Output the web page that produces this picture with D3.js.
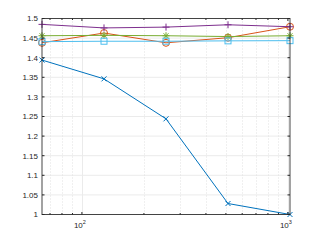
<!DOCTYPE html>
<html>
<head>
<meta charset="utf-8">
<script src="https://cdn.jsdelivr.net/npm/d3@7"></script>
<style>
  html, body { margin: 0; padding: 0; background: #fff; }
  svg { display: block; font-family: "Liberation Sans", Arial, sans-serif; }
</style>
</head>
<body>
<svg id="chart" width="321" height="241"></svg>
<script>
const xValues = [64, 128, 256, 512, 1024];

const blueX = [1.394, 1.346, 1.244, 1.028, 1.0];
const orangeO = [1.438, 1.463, 1.438, 1.451, 1.479];
const purplePlus = [1.485, 1.476, 1.478, 1.484, 1.479];
const greenStar = [1.456, 1.457, 1.456, 1.454, 1.456];
const cyanSquare = [1.441, 1.442, 1.442, 1.443, 1.4435];

const yTicks = [1, 1.05, 1.1, 1.15, 1.2, 1.25, 1.3, 1.35, 1.4, 1.45, 1.5];
const xMajor = [100, 1000];
const xMinor = [70, 80, 90, 200, 300, 400, 500, 600, 700, 800, 900];

const series = [
  { values: blueX, color: '#0072BD', marker: 'x' },
  { values: orangeO, color: '#D95319', marker: 'o' },
  { values: purplePlus, color: '#7E2F8E', marker: '+' },
  { values: greenStar, color: '#77AC30', marker: '*' },
  { values: cyanSquare, color: '#4DBEEE', marker: 's' },
];

const area = { left: 42, right: 290, top: 18.5, bottom: 214.5 };

const svg = d3.select('#chart');

const x = d3.scaleLog().domain([64, 1024]).range([area.left, area.right]);
const y = d3.scaleLinear().domain([1, 1.5]).range([area.bottom, area.top]);

// grid
const grid = svg.append('g');
grid.selectAll('.ymaj').data(yTicks).join('line')
  .attr('x1', area.left).attr('x2', area.right)
  .attr('y1', (d) => y(d)).attr('y2', (d) => y(d))
  .attr('stroke', '#ebebeb').attr('stroke-width', 1);
grid.selectAll('.xmin').data(xMinor).join('line')
  .attr('x1', (d) => Math.round(x(d)) + 0.5).attr('x2', (d) => Math.round(x(d)) + 0.5)
  .attr('y1', area.top).attr('y2', area.bottom)
  .attr('stroke', '#e0e0e0').attr('stroke-dasharray', '1,2');
grid.selectAll('.xmaj').data(xMajor).join('line')
  .attr('x1', (d) => Math.round(x(d)) + 0.5).attr('x2', (d) => Math.round(x(d)) + 0.5)
  .attr('y1', area.top).attr('y2', area.bottom)
  .attr('stroke', '#ebebeb');

// lines and markers
const line = d3.line()
  .x((d, i) => x(xValues[i]))
  .y((d) => y(d));

series.forEach((s) => {
  svg.append('path')
    .attr('d', line(s.values))
    .attr('fill', 'none')
    .attr('stroke', s.color)
    .attr('stroke-width', 1);

  const g = svg.append('g')
    .attr('stroke', s.color)
    .attr('fill', 'none')
    .attr('stroke-width', 1);

  s.values.forEach((v, i) => {
    const cx = x(xValues[i]);
    const cy = y(v);
    const r = 3;
    if (s.marker === 'o') {
      g.append('circle').attr('cx', cx).attr('cy', cy).attr('r', 3.5);
    } else if (s.marker === 's') {
      g.append('rect').attr('x', cx - r).attr('y', cy - r).attr('width', 2 * r).attr('height', 2 * r);
    } else if (s.marker === 'x') {
      g.append('path').attr('d', `M${cx - 2.5},${cy - 2.5}L${cx + 2.5},${cy + 2.5}M${cx - 2.5},${cy + 2.5}L${cx + 2.5},${cy - 2.5}`);
    } else if (s.marker === '+') {
      g.append('path').attr('d', `M${cx - 3.5},${cy}L${cx + 3.5},${cy}M${cx},${cy - 3.5}L${cx},${cy + 3.5}`);
    } else if (s.marker === '*') {
      g.append('path').attr('d', `M${cx - 3.5},${cy}L${cx + 3.5},${cy}M${cx},${cy - 3.5}L${cx},${cy + 3.5}M${cx - 2.5},${cy - 2.5}L${cx + 2.5},${cy + 2.5}M${cx - 2.5},${cy + 2.5}L${cx + 2.5},${cy - 2.5}`);
    }
  });
});

// axes box
const axisColor = '#262626';
svg.append('rect')
  .attr('x', area.left).attr('y', area.top)
  .attr('width', area.right - area.left).attr('height', area.bottom - area.top)
  .attr('fill', 'none').attr('stroke', axisColor).attr('stroke-width', 1)
  .attr('stroke-opacity', 0.85);

// ticks point inward on all four sides
const ticks = svg.append('g').attr('stroke', axisColor).attr('stroke-width', 1);
yTicks.forEach((t) => {
  const yy = y(t);
  ticks.append('line').attr('x1', area.left).attr('x2', area.left + 2.5).attr('y1', yy).attr('y2', yy);
  ticks.append('line').attr('x1', area.right).attr('x2', area.right - 2.5).attr('y1', yy).attr('y2', yy);
});
xMajor.concat(xMinor).forEach((t) => {
  const xx = x(t);
  const len = xMajor.includes(t) ? 2.5 : 1.5;
  ticks.append('line').attr('x1', xx).attr('x2', xx).attr('y1', area.bottom).attr('y2', area.bottom - len);
  ticks.append('line').attr('x1', xx).attr('x2', xx).attr('y1', area.top).attr('y2', area.top + len);
});

// y labels
svg.append('g').selectAll('text').data(yTicks).join('text')
  .attr('x', area.left - 4)
  .attr('y', (d) => y(d))
  .attr('dy', '0.35em')
  .attr('text-anchor', 'end')
  .attr('font-size', 8)
  .attr('fill', axisColor)
  .text((d) => String(d));

// x labels 10^n
const xl = svg.append('g');
xMajor.forEach((t) => {
  const tx = xl.append('text')
    .attr('x', x(t) - 2)
    .attr('y', area.bottom + 13)
    .attr('text-anchor', 'middle')
    .attr('font-size', 8)
    .attr('fill', axisColor);
  tx.append('tspan').text('10');
  tx.append('tspan').attr('dy', -3.5).attr('font-size', 5.5).text(String(Math.log10(t)));
});
</script>
</body>
</html>
